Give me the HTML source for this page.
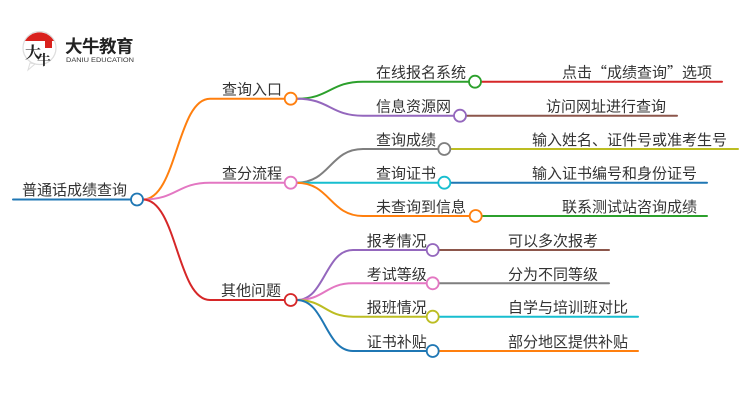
<!DOCTYPE html>
<html><head><meta charset="utf-8"><style>
html,body{margin:0;padding:0;background:#fff;}
svg{display:block;}
text{font-family:"Liberation Sans","Noto Sans CJK SC",sans-serif;font-size:15px;fill:#333;}
</style></head><body>
<svg width="750" height="410" viewBox="0 0 750 410" xmlns="http://www.w3.org/2000/svg">
<g fill="none" stroke-width="2" stroke-linecap="round">
<path d="M13,199.5 L131,199.5" stroke="#1f77b4"/>
<path d="M143,199.5 C177,199.5 177,98.7 210,98.7 L284.7,98.7" stroke="#ff7f0e"/>
<path d="M143,199.5 C177,199.5 177,182.7 210,182.7 L284.7,182.7" stroke="#e377c2"/>
<path d="M143,199.5 C177,199.5 177,300 210,300 L284.7,300" stroke="#d62728"/>
<path d="M296.7,98.7 C330,98.7 330,81.7 363,81.7 L469,81.7" stroke="#2ca02c"/>
<path d="M296.7,98.7 C330,98.7 330,115.7 363,115.7 L454,115.7" stroke="#9467bd"/>
<path d="M481,81.7 L722,81.7" stroke="#d62728"/>
<path d="M466,115.7 L677,115.7" stroke="#8c564b"/>
<path d="M296.7,182.7 C330,182.7 330,149 363,149 L438.3,149" stroke="#7f7f7f"/>
<path d="M296.7,182.7 L438.3,182.7" stroke="#17becf"/>
<path d="M296.7,182.7 C330,182.7 330,216 363,216 L469.7,216" stroke="#ff7f0e"/>
<path d="M450.3,149 L738,149" stroke="#bcbd22"/>
<path d="M450.3,182.7 L707,182.7" stroke="#1f77b4"/>
<path d="M481.7,216 L707,216" stroke="#2ca02c"/>
<path d="M296.7,300 C325,300 325,250 353,250 L426.7,250" stroke="#9467bd"/>
<path d="M296.7,300 C325,300 325,283.3 353,283.3 L426.7,283.3" stroke="#e377c2"/>
<path d="M296.7,300 C325,300 325,316.7 353,316.7 L426.7,316.7" stroke="#bcbd22"/>
<path d="M296.7,300 C325,300 325,351 353,351 L426.7,351" stroke="#1f77b4"/>
<path d="M438.7,250 L609,250" stroke="#8c564b"/>
<path d="M438.7,283.3 L609,283.3" stroke="#7f7f7f"/>
<path d="M438.7,316.7 L638,316.7" stroke="#17becf"/>
<path d="M438.7,351 L638,351" stroke="#ff7f0e"/>
</g>
<g fill="#fff" stroke-width="1.8">
<circle cx="137" cy="199.5" r="6" stroke="#1f77b4"/>
<circle cx="290.7" cy="98.7" r="6" stroke="#ff7f0e"/>
<circle cx="290.7" cy="182.7" r="6" stroke="#e377c2"/>
<circle cx="290.7" cy="300" r="6" stroke="#d62728"/>
<circle cx="475" cy="81.7" r="6" stroke="#2ca02c"/>
<circle cx="460" cy="115.7" r="6" stroke="#9467bd"/>
<circle cx="444.3" cy="149" r="6" stroke="#7f7f7f"/>
<circle cx="444.3" cy="182.7" r="6" stroke="#17becf"/>
<circle cx="475.7" cy="216" r="6" stroke="#ff7f0e"/>
<circle cx="432.7" cy="250" r="6" stroke="#9467bd"/>
<circle cx="432.7" cy="283.3" r="6" stroke="#e377c2"/>
<circle cx="432.7" cy="316.7" r="6" stroke="#bcbd22"/>
<circle cx="432.7" cy="351" r="6" stroke="#1f77b4"/>
</g>
<text x="22" y="195">普通话成绩查询</text>
<text x="222" y="94.5">查询入口</text>
<text x="222" y="178.5">查分流程</text>
<text x="221" y="295.5">其他问题</text>
<text x="376" y="77.5">在线报名系统</text>
<text x="376" y="111.5">信息资源网</text>
<text x="376" y="145">查询成绩</text>
<text x="376" y="178.5">查询证书</text>
<text x="376" y="212">未查询到信息</text>
<text x="366.7" y="246">报考情况</text>
<text x="366.7" y="279.3">考试等级</text>
<text x="366.7" y="312.7">报班情况</text>
<text x="366.7" y="347">证书补贴</text>
<g text-anchor="end">
<text x="712" y="77.5" style="font-family:'Noto Sans CJK SC',sans-serif">点击“成绩查询”选项</text>
<text x="666" y="111.5">访问网址进行查询</text>
<text x="727" y="145">输入姓名、证件号或准考生号</text>
<text x="697" y="178.5">输入证书编号和身份证号</text>
<text x="697" y="212">联系测试站咨询成绩</text>
<text x="598" y="246">可以多次报考</text>
<text x="598" y="279.3">分为不同等级</text>
<text x="628" y="312.7">自学与培训班对比</text>
<text x="628" y="347">部分地区提供补贴</text>
</g>
<g>
<circle cx="39.5" cy="48" r="16.5" fill="#fff" stroke="#ddd" stroke-width="1.2"/>
<path d="M25,41 A16.5,16.5 0 0 1 54,41 Z" fill="#d9211d"/>
<path d="M30,63 L28,70 L35,64 Z" fill="#fff" stroke="#ddd" stroke-width="1"/>
<rect x="45" y="39" width="7" height="9" fill="#d9211d"/>
<text x="25" y="58" style="font-family:'Liberation Serif','Noto Serif CJK SC',serif;font-size:16px;fill:#222;font-weight:bold">大</text>
<text x="37" y="65" style="font-family:'Liberation Serif','Noto Serif CJK SC',serif;font-size:14px;fill:#222;font-weight:bold">牛</text>
<text x="65" y="52.5" style="font-size:17.5px;font-weight:bold;fill:#222;letter-spacing:-0.5px">大牛教育</text>
<text x="66" y="62" style="font-size:6px;fill:#333" textLength="68" lengthAdjust="spacingAndGlyphs">DANIU EDUCATION</text>
</g>
</svg>
</body></html>
